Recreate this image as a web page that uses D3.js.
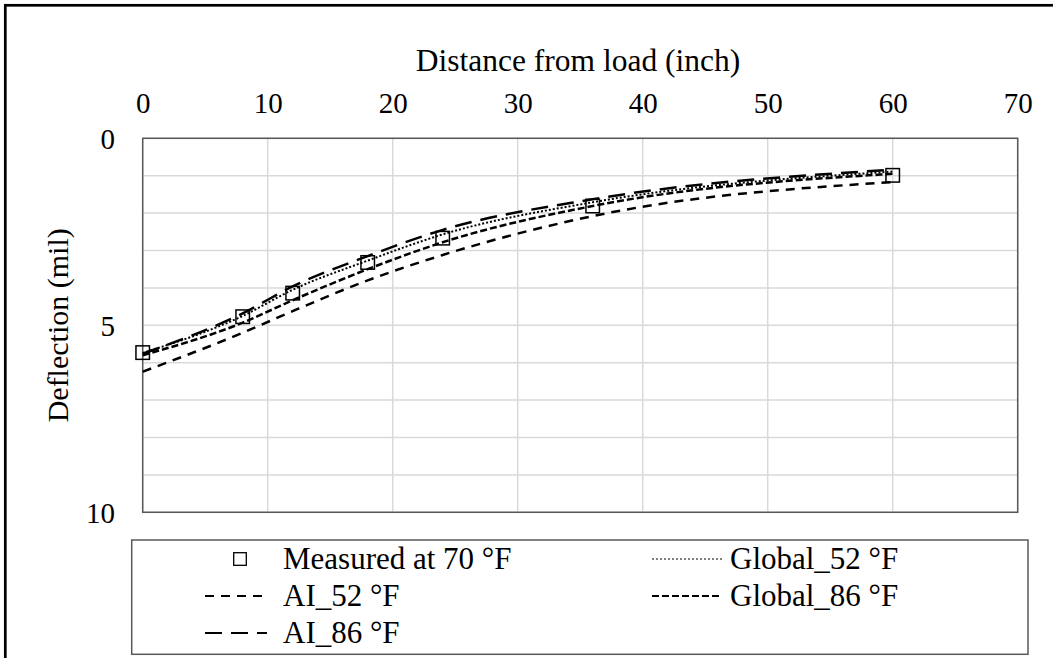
<!DOCTYPE html>
<html>
<head>
<meta charset="utf-8">
<script src="https://cdn.jsdelivr.net/npm/d3@7"></script>
<style>
  html, body { margin: 0; padding: 0; background: #fff; }
  svg { display: block; }
  text { font-family: "Liberation Serif", "Tinos", "Times New Roman", "DejaVu Serif", serif; fill: #000; }
</style>
</head>
<body>
<svg id="chart" width="1053" height="658"></svg>
<script>
// Sensor offsets from the load (inch)
const distances = [0, 8, 12, 18, 24, 36, 60];

// Deflection values (mil)
const measured70 = [5.73, 4.77, 4.14, 3.32, 2.67, 1.81, 0.99];
const ai52       = [6.24, 5.20, 4.62, 3.80, 3.12, 2.08, 1.17];
const global86   = [5.80, 4.93, 4.33, 3.50, 2.78, 1.81, 0.95];
const global52   = [5.74, 4.75, 4.05, 3.27, 2.57, 1.71, 0.89];
const ai86       = [5.76, 4.68, 3.96, 3.15, 2.45, 1.63, 0.84];

const xTicks = [0, 10, 20, 30, 40, 50, 60, 70];
const yTicks = [0, 5, 10];
const yGrid  = [0, 1, 2, 3, 4, 5, 6, 7, 8, 9, 10];

const FONT = '"Liberation Serif", "Tinos", "Times New Roman", "DejaVu Serif", serif';

const svg = d3.select("#chart");
const W = 1053, H = 658;

// outer frame (runs past the right and bottom edges)
svg.append("rect")
  .attr("x", 5.3).attr("y", 5.3)
  .attr("width", W + 20).attr("height", H + 20)
  .attr("fill", "none").attr("stroke", "#000").attr("stroke-width", 2.7);

const plot = { left: 142.7, top: 138.3, right: 1017.7, bottom: 512.3 };

const x = d3.scaleLinear().domain([0, 70]).range([plot.left, plot.right]);
const y = d3.scaleLinear().domain([0, 10]).range([plot.top, plot.bottom]);

// gridlines
const grid = svg.append("g");
grid.selectAll("line.h").data(yGrid).join("line")
  .attr("x1", plot.left).attr("x2", plot.right)
  .attr("y1", d => y(d)).attr("y2", d => y(d))
  .attr("stroke", "#d9d9d9").attr("stroke-width", 1.5);
grid.selectAll("line.v").data(xTicks).join("line")
  .attr("y1", plot.top).attr("y2", plot.bottom)
  .attr("x1", d => x(d)).attr("x2", d => x(d))
  .attr("stroke", "#d9d9d9").attr("stroke-width", 1.5);

// plot border
svg.append("rect")
  .attr("x", plot.left).attr("y", plot.top)
  .attr("width", plot.right - plot.left).attr("height", plot.bottom - plot.top)
  .attr("fill", "none").attr("stroke", "#595959").attr("stroke-width", 1.5);

// top x axis labels
const xAxis = d3.axisTop(x).tickValues(xTicks).tickSize(0).tickPadding(0).tickFormat(d3.format("d"));
const gx = svg.append("g").attr("transform", `translate(0, 113)`).call(xAxis)
  .attr("font-family", FONT).attr("font-size", 29);
gx.select(".domain").remove();
gx.selectAll("text").attr("fill", "#000").attr("dy", 0);

// left y axis labels
const yAxis = d3.axisLeft(y).tickValues(yTicks).tickSize(0).tickPadding(0).tickFormat(d3.format("d"));
const gy = svg.append("g").attr("transform", `translate(115, 0)`).call(yAxis)
  .attr("font-family", FONT).attr("font-size", 29);
gy.select(".domain").remove();
gy.selectAll("text").attr("fill", "#000").attr("dy", "0.34em");

// axis titles
svg.append("text")
  .attr("x", 578).attr("y", 71)
  .attr("text-anchor", "middle").attr("font-size", 31.5).attr("font-family", FONT)
  .text("Distance from load (inch)");
svg.append("text")
  .attr("transform", `translate(68, ${(plot.top + plot.bottom) / 2}) rotate(-90)`)
  .attr("text-anchor", "middle").attr("font-size", 30).attr("font-family", FONT)
  .text("Deflection (mil)");

// series definitions
const series = [
  { name: "AI_52 °F",     values: ai52,     width: 2.5, dash: "9,7" },
  { name: "Global_86 °F", values: global86, width: 2.5, dash: "7,3" },
  { name: "Global_52 °F", values: global52, width: 2,   dash: "2,2" },
  { name: "AI_86 °F",     values: ai86,     width: 2.5, dash: "17,9" }
];

const line = d3.line()
  .x(d => x(d[0])).y(d => y(d[1]))
  .curve(d3.curveMonotoneX);

svg.append("g").selectAll("path").data(series).join("path")
  .attr("d", s => line(distances.map((dx, i) => [dx, s.values[i]])))
  .attr("fill", "none").attr("stroke", "#000")
  .attr("stroke-width", s => s.width)
  .attr("stroke-dasharray", s => s.dash);

// measured points: open squares
const sq = 13.5;
svg.append("g").selectAll("rect").data(distances.map((dx, i) => [dx, measured70[i]])).join("rect")
  .attr("x", d => x(d[0]) - sq / 2).attr("y", d => y(d[1]) - sq / 2)
  .attr("width", sq).attr("height", sq)
  .attr("fill", "none").attr("stroke", "#000").attr("stroke-width", 1.5);

// legend
const lg = svg.append("g").attr("font-family", FONT);
lg.append("rect")
  .attr("x", 131.7).attr("y", 540).attr("width", 1028 - 131.7).attr("height", 654.3 - 540)
  .attr("fill", "#fff").attr("stroke", "#595959").attr("stroke-width", 1.5);

const legendItems = [
  { name: "Measured at 70 °F", marker: true,  col: 0, row: 0 },
  { name: "Global_52 °F", s: series[2], col: 1, row: 0 },
  { name: "AI_52 °F",     s: series[0], col: 0, row: 1 },
  { name: "Global_86 °F", s: series[1], col: 1, row: 1 },
  { name: "AI_86 °F",     s: series[3], col: 0, row: 2 }
];
const colSample = [[205, 267], [652, 722]];
const colText = [283, 730];
const rowBase = [569, 606, 643];

legendItems.forEach(it => {
  const cy = rowBase[it.row] - 10;
  if (it.marker) {
    const cx = 240;
    lg.append("rect").attr("x", cx - 6.3).attr("y", cy - 6.3)
      .attr("width", 12.6).attr("height", 12.6)
      .attr("fill", "none").attr("stroke", "#000").attr("stroke-width", 1.3);
  } else {
    lg.append("line")
      .attr("x1", colSample[it.col][0]).attr("x2", colSample[it.col][1])
      .attr("y1", cy).attr("y2", cy)
      .attr("stroke", "#000").attr("stroke-width", it.s === series[2] ? 1.2 : 2)
      .attr("stroke-dasharray", it.s.dash);
  }
  lg.append("text").attr("x", colText[it.col]).attr("y", rowBase[it.row])
    .attr("font-size", 31).text(it.name);
});
</script>
</body>
</html>
